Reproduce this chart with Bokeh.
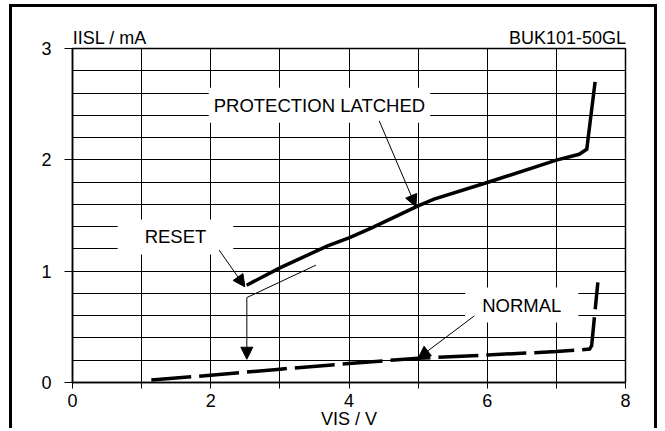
from bokeh.plotting import figure
from bokeh.models import Range1d, FixedTicker, Label, Arrow, NormalHead, LinearAxis
from bokeh.embed import file_html
from bokeh.resources import INLINE

# ---- data ----
latched_x = [2.52, 3.0, 3.69, 4.0, 4.32, 5.0, 5.23, 6.0, 7.0, 7.33, 7.44, 7.56]
latched_y = [0.874, 1.03, 1.227, 1.30, 1.386, 1.587, 1.647, 1.796, 1.997, 2.05, 2.096, 2.70]

normal_x = [1.14, 2.0, 3.0, 4.0, 5.0, 6.0, 7.0, 7.48, 7.51, 7.60]
normal_y = [0.023, 0.065, 0.12, 0.17, 0.218, 0.247, 0.278, 0.30, 0.33, 0.90]

x_ticks = [0, 1, 2, 3, 4, 5, 6, 7, 8]
x_tick_labels = {0: "0", 1: "", 2: "2", 3: "", 4: "4", 5: "", 6: "6", 7: "", 8: "8"}
y_ticks = [0, 1, 2, 3]
y_grid = [0, 0.2, 0.4, 0.6, 0.8, 1.0, 1.2, 1.4, 1.6, 1.8, 2.0, 2.2, 2.4, 2.6, 2.8, 3.0]

y_unit_label = "IISL / mA"
device_label = "BUK101-50GL"
x_unit_label = "VIS / V"
header_pos = [0.54, 7.16]   # centre positions of the two header texts

FONT = "Liberation Sans"
FS = "18px"

p = figure(width=648, height=424, x_range=Range1d(0, 8), y_range=Range1d(0, 3),
           output_backend="svg", toolbar_location=None,
           min_border_left=60, min_border_right=35, min_border_top=41, min_border_bottom=49)
p.styles = {"margin-left": "9px", "margin-top": "4px",
            "border-left": "3px solid black", "border-right": "3px solid black",
            "border-top": "3px solid black"}
p.background_fill_color = "white"
p.border_fill_color = "white"
p.outline_line_color = "black"
p.outline_line_width = 1.5
p.outline_line_alpha = 1

# axes
p.xaxis.ticker = FixedTicker(ticks=x_ticks)
p.xaxis.major_label_overrides = {float(k): v for k, v in x_tick_labels.items()}
p.yaxis.ticker = FixedTicker(ticks=y_ticks)
for ax in (p.xaxis[0], p.yaxis[0]):
    ax.axis_line_color = "black"
    ax.axis_line_width = 1.5
    ax.major_tick_line_color = "black"
    ax.major_tick_line_width = 1
    ax.major_tick_in = 0
    ax.minor_tick_line_color = None
    ax.major_label_text_font = FONT
    ax.major_label_text_font_size = FS
    ax.major_label_text_color = "black"
p.xaxis.major_tick_out = 6
p.xaxis.major_label_standoff = 5
p.yaxis.major_tick_out = 8
p.yaxis.major_label_standoff = 13

p.xaxis.axis_label = x_unit_label
p.xaxis.axis_label_text_font = FONT
p.xaxis.axis_label_text_font_size = FS
p.xaxis.axis_label_text_font_style = "normal"
p.xaxis.axis_label_text_color = "black"
p.xaxis.axis_label_standoff = -1

# header texts as an unlined axis above the frame
top = LinearAxis(ticker=FixedTicker(ticks=header_pos),
                 major_label_overrides={header_pos[0]: y_unit_label,
                                        header_pos[1]: device_label})
top.axis_line_color = None
top.major_tick_line_color = None
top.minor_tick_line_color = None
top.major_tick_out = 0
top.major_label_standoff = 1
top.major_label_text_font = FONT
top.major_label_text_font_size = FS
top.major_label_text_color = "black"
p.add_layout(top, "above")

# grid
p.xgrid.ticker = FixedTicker(ticks=x_ticks)
p.ygrid.ticker = FixedTicker(ticks=y_grid)
for g in (p.xgrid[0], p.ygrid[0]):
    g.grid_line_color = "black"
    g.grid_line_alpha = 1
    g.grid_line_width = 1

# curves
p.line(latched_x, latched_y, line_color="black", line_width=3.5, line_join="miter")
p.line(normal_x, normal_y, line_color="black", line_width=3.5, line_dash="40 8",
       line_join="miter")

# callout boxes
def callout(x, y, text, px, py):
    p.add_layout(Label(x=x, y=y, text=text, text_align="center", text_baseline="middle",
                       text_font=FONT, text_font_size="18.5px", text_color="black",
                       background_fill_color="white", background_fill_alpha=1,
                       padding=dict(left=px, right=px, top=py, bottom=py)))

callout(3.572, 2.49, "PROTECTION LATCHED", 5, 7)
callout(1.49, 1.308, "RESET", 27, 7)
callout(6.50, 0.695, "NORMAL", 17, 7)

def head():
    return NormalHead(size=12, fill_color="black", line_color="black", line_width=1)

p.add_layout(Arrow(x_start=4.437, y_start=2.35, x_end=4.968, y_end=1.578,
                   line_width=1, line_color="black", end=head()))
p.add_layout(Arrow(x_start=2.122, y_start=1.189, x_end=2.494, y_end=0.859,
                   line_width=1, line_color="black", end=head()))
p.add_layout(Arrow(x_start=5.812, y_start=0.598, x_end=5.0, y_end=0.218,
                   line_width=1, line_color="black", end=head()))
p.add_layout(Arrow(x_start=3.521, y_start=1.054, x_end=2.522, y_end=0.763,
                   line_width=1, line_color="black", end=None))
p.add_layout(Arrow(x_start=2.522, y_start=0.763, x_end=2.522, y_end=0.209,
                   line_width=1, line_color="black", end=head()))

open("out.html", "w").write(file_html(p, INLINE))
